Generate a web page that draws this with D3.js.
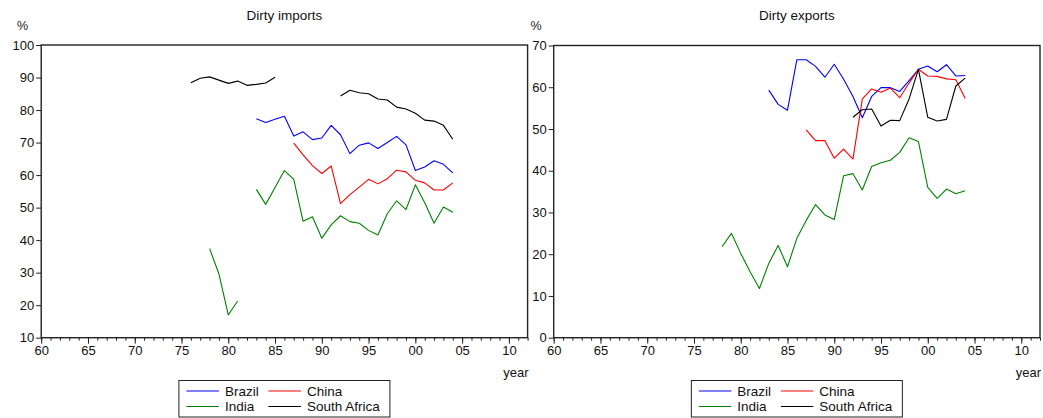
<!DOCTYPE html>
<html><head><meta charset="utf-8">
<script src="https://cdn.jsdelivr.net/npm/d3@7"></script>
<style>
body{margin:0;background:#fff;}
svg{display:block;font-family:"Liberation Sans",Arial,sans-serif;}
</style></head>
<body><svg id="c" width="1043" height="418"></svg>
<script>
// ---- data ----
const years = d3.range(1976, 2005); // 1976..2004
const seriesNames = ["Brazil", "China", "India", "South Africa"];
const seriesColors = ["#0000ff", "#ff0000", "#008000", "#000000"];
const N = null;
// Dirty imports (%)
const impBrazil = [N,N,N,N,N,N,N, 77.3,76.2,77.2,78.1,72.0,73.3,70.9,71.4,75.3,72.4,66.6,69.2,69.9,68.2,70.0,71.9,69.3,61.4,62.5,64.4,63.3,60.7];
const impChina  = [N,N,N,N,N,N,N,N,N,N,N, 69.8,66.2,62.9,60.5,62.8,51.2,54.0,56.3,58.7,57.3,58.9,61.5,61.0,58.4,57.6,55.4,55.4,57.6];
const impIndia  = [N,N, 37.4,29.6,17.0,21.3, N, 55.6,51.0,56.2,61.4,58.7,45.8,47.2,40.6,44.7,47.5,45.7,45.2,43.0,41.6,48.1,52.1,49.4,57.0,51.5,45.2,50.2,48.6];
const impSAfrica= [88.4,89.8,90.2,89.2,88.2,88.9,87.6,87.9,88.3,90.1, N,N,N,N,N,N, 84.3,86.1,85.3,85.0,83.4,83.1,80.9,80.3,79.0,76.9,76.6,75.3,71.0];
// Dirty exports (%)
const expBrazil = [N,N,N,N,N,N,N, 59.3,55.9,54.5,66.6,66.6,65.0,62.4,65.5,61.9,57.8,52.7,57.8,59.9,59.9,59.0,61.6,64.3,65.1,63.7,65.4,62.7,62.8];
const expChina  = [N,N,N,N,N,N,N,N,N,N,N, 49.8,47.2,47.2,43.0,45.2,42.8,57.2,59.6,58.8,59.8,57.5,61.0,64.3,62.7,62.6,62.0,61.8,57.3];
const expIndia  = [N,N, 21.8,25.0,20.2,15.8,11.8,17.8,22.1,17.0,23.8,28.1,31.9,29.4,28.3,38.8,39.3,35.4,41.0,41.9,42.5,44.4,47.9,47.0,36.0,33.4,35.6,34.5,35.2];
const expSAfrica= [0,0,0,0,0,0,0,0,0, N,N,N,N,N,N,N, 52.8,54.6,54.8,50.7,52.1,52.0,57.2,64.3,52.8,51.9,52.3,60.3,62.2];
// axis ticks
const xMajorYears = [1960,1965,1970,1975,1980,1985,1990,1995,2000,2005,2010];
const xTickLabels = ["60","65","70","75","80","85","90","95","00","05","10"];
const impYTicks = [10,20,30,40,50,60,70,80,90,100];
const expYTicks = [0,10,20,30,40,50,60,70];

// ---- drawing ----
const svg = d3.select("#c");
const FONT = 13;

function panel(opts){
  const g = svg.append("g");
  const x = d3.scaleLinear().domain([1960, 2012]).range([opts.x0, opts.x1]);
  const y = d3.scaleLinear().domain(opts.yDomain).range([opts.yBot, opts.yTop]);

  // title
  g.append("text").attr("x", (opts.x0+opts.x1)/2).attr("y", 20)
    .attr("text-anchor","middle").attr("font-size", 13.5).attr("fill","#111").text(opts.title);
  // % label
  g.append("text").attr("x", opts.pctX).attr("y", 30).attr("text-anchor","middle")
    .attr("font-size", 12.5).attr("fill","#222").text("%");

  // y axis
  const ya = g.append("g").attr("transform",`translate(${opts.x0},0)`)
    .call(d3.axisLeft(y).tickValues(opts.yTicks).tickSize(5).tickPadding(2).tickFormat(d3.format("d")));
  ya.select(".domain").remove();
  ya.selectAll("line").attr("stroke","#222");
  ya.selectAll("text").attr("font-size", FONT).attr("fill","#111").attr("font-family","Liberation Sans, Arial");

  // x axis minor
  const xm = g.append("g").attr("transform",`translate(0,${opts.yBot})`)
    .call(d3.axisBottom(x).tickValues(d3.range(1960, 2013)).tickSize(3).tickFormat(""));
  xm.select(".domain").remove();
  xm.selectAll("line").attr("stroke","#222");
  // x axis major
  const xa = g.append("g").attr("transform",`translate(0,${opts.yBot})`)
    .call(d3.axisBottom(x).tickValues(xMajorYears).tickSize(6).tickPadding(2)
      .tickFormat((d,i)=>xTickLabels[i]));
  xa.select(".domain").remove();
  xa.selectAll("line").attr("stroke","#222");
  xa.selectAll("text").attr("font-size", FONT).attr("fill","#111").attr("font-family","Liberation Sans, Arial");

  // year label
  g.append("text").attr("x", opts.x1+1).attr("y", 377).attr("text-anchor","end")
    .attr("font-size", FONT).attr("fill","#111").text("year");

  // lines
  const line = d3.line().defined(d => d.v !== null)
    .x(d => x(d.year)).y(d => y(d.v));
  opts.series.forEach((vals, i) => {
    const data = years.map((yr, k) => ({year: yr, v: vals[k]}));
    g.append("path").datum(data).attr("d", line)
      .attr("fill","none").attr("stroke", seriesColors[i]).attr("stroke-width", 1.1)
      .attr("stroke-linejoin","round");
  });

  // frame
  g.append("rect").attr("x", opts.x0).attr("y", opts.yTop)
    .attr("width", opts.x1-opts.x0).attr("height", opts.yBot-opts.yTop)
    .attr("fill","none").attr("stroke","#222").attr("stroke-width",1.4);

  // legend
  const cx = (opts.x0+opts.x1)/2;
  const lg = g.append("g");
  lg.append("rect").attr("x", cx-105.5).attr("y", 380.5).attr("width", 211).attr("height", 36.5)
    .attr("fill","#fff").attr("stroke","#222").attr("stroke-width",1);
  const pos = [[-98,391],[-16,391],[-98,406.5],[-16,406.5]];
  seriesNames.forEach((nm, i) => {
    const [dx, yy] = pos[i];
    lg.append("line").attr("x1", cx+dx).attr("x2", cx+dx+32.5).attr("y1", yy).attr("y2", yy)
      .attr("stroke", seriesColors[i]).attr("stroke-width", 1);
    lg.append("text").attr("x", cx+dx+38.5).attr("y", yy+4.8).attr("font-size", 13.5)
      .attr("fill","#111").text(nm);
  });
}

panel({title:"Dirty imports", x0:41.2, x1:527.6, yTop:45, yBot:337.7, yDomain:[10,100],
  yTicks: impYTicks, pctX: 22.5, series:[impBrazil, impChina, impIndia, impSAfrica]});
panel({title:"Dirty exports", x0:553.7, x1:1040, yTop:45.5, yBot:337.7, yDomain:[0,70],
  yTicks: expYTicks, pctX: 536, series:[expBrazil, expChina, expIndia, expSAfrica]});
</script></body></html>
